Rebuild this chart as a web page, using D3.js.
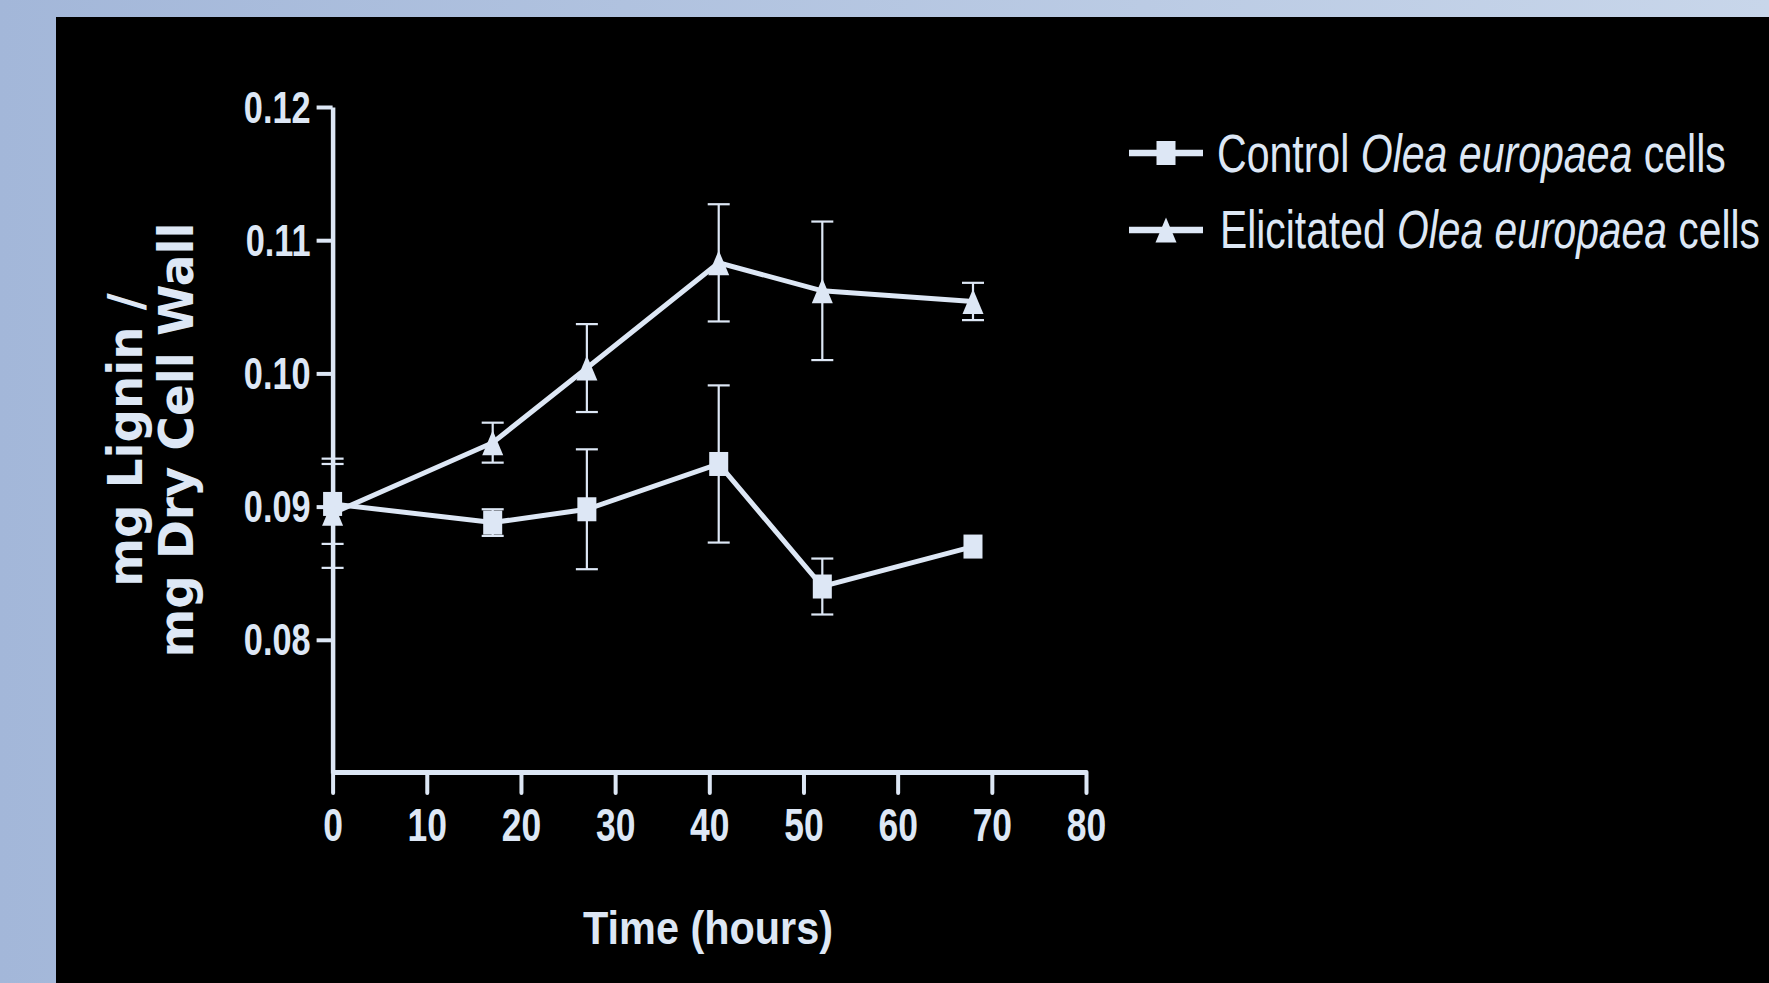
<!DOCTYPE html>
<html>
<head>
<meta charset="utf-8">
<script src="https://cdn.jsdelivr.net/npm/d3@7"></script>
<style>
  html, body { margin: 0; padding: 0; overflow: hidden; }
  body { background: linear-gradient(to right, #a3b7d9, #c8d6ea); }
  svg { display: block; }
</style>
</head>
<body>
<svg id="chart" width="1769" height="983"></svg>
<script>
// Sampling times (hours)
const hours = [0, 17, 27, 41, 52, 68];

// Lignin content (mg lignin / mg dry cell wall), mean and SD
const controlMean = [0.0902, 0.0888, 0.0898, 0.0932, 0.0840, 0.0870];
const controlErr  = [0.0030, 0.0010, 0.0045, 0.0059, 0.0021, 0.0000];
const elicitMean  = [0.0895, 0.0948, 0.1004, 0.1083, 0.1062, 0.1054];
const elicitErr   = [0.0041, 0.0015, 0.0033, 0.0044, 0.0052, 0.0014];

// Axis ticks
const xTicks = [0, 10, 20, 30, 40, 50, 60, 70, 80];
const yTicks = [0.08, 0.09, 0.10, 0.11, 0.12];

// Legend labels: [plain, italic, plain]
const legendLabels = [
  ["Control ", "Olea europaea", " cells"],
  ["Elicitated ", "Olea europaea", " cells"]
];

const FG = "#dde7f5";
const svg = d3.select("#chart");

// Black slide panel
svg.append("rect")
  .attr("x", 56).attr("y", 17)
  .attr("width", 1769 - 56).attr("height", 983 - 17)
  .attr("fill", "#000");

const x = d3.scaleLinear().domain([0, 80]).range([332.6, 1086]);
const y = d3.scaleLinear().domain([0.07, 0.12]).range([773, 107]);

const chartFont = "'Liberation Sans', Arial, sans-serif";

// Horizontal squeeze of a text node so it spans the given width
function squeezeTo(node, target) {
  const w = node.getBBox().width;
  return target / w;
}

// Y axis
const yAxis = svg.append("g")
  .attr("transform", `translate(${x(0)},0)`)
  .call(d3.axisLeft(y).tickValues(yTicks).tickSize(16).tickSizeOuter(0)
        .tickFormat(d3.format(".2f")));
yAxis.select(".domain").attr("stroke", FG).attr("stroke-width", 4.5);
yAxis.selectAll(".tick line").attr("stroke", FG).attr("stroke-width", 4);
yAxis.selectAll(".tick text")
  .attr("x", null).attr("dy", null)
  .attr("fill", FG)
  .attr("font-family", chartFont).attr("font-weight", "bold").attr("font-size", 44)
  .attr("text-anchor", "end")
  .attr("transform", "translate(-22,15) scale(0.78,1)");

// X axis
const xAxis = svg.append("g")
  .attr("transform", `translate(0,${y(0.07) - 1})`)
  .call(d3.axisBottom(x).tickValues(xTicks).tickSize(21).tickSizeOuter(0)
        .tickFormat(d3.format("d")));
xAxis.select(".domain").attr("stroke", FG).attr("stroke-width", 5);
xAxis.selectAll(".tick line").attr("stroke", FG).attr("stroke-width", 4)
  .attr("stroke-linecap", "round");
xAxis.selectAll(".tick text")
  .attr("y", null).attr("dy", null)
  .attr("fill", FG)
  .attr("font-family", chartFont).attr("font-weight", "bold").attr("font-size", 46)
  .attr("text-anchor", "middle")
  .attr("transform", "translate(0,69) scale(0.77,1)");
svg.selectAll(".tick").attr("font-family", null);

// Axis titles
const xTitle = svg.append("text")
  .attr("fill", FG)
  .attr("font-family", chartFont).attr("font-weight", "bold").attr("font-size", 46)
  .attr("text-anchor", "middle")
  .text("Time (hours)");
xTitle.attr("transform", `translate(708,944) scale(${squeezeTo(xTitle.node(), 250)},1)`);

const yTitleLines = [
  { text: "mg Lignin /", base: 142, len: 294 },
  { text: "mg Dry Cell Wall", base: 193, len: 435 }
];
yTitleLines.forEach(l => {
  const t = svg.append("text")
    .attr("fill", FG)
    .attr("font-family", "'DejaVu Sans', Verdana, sans-serif")
    .attr("font-weight", "bold").attr("font-size", 48)
    .attr("text-anchor", "middle")
    .text(l.text);
  const s = squeezeTo(t.node(), l.len);
  t.attr("transform", `translate(${l.base},440) rotate(-90) scale(${s},1)`);
});

// Series
const series = [
  { mean: controlMean, err: controlErr, shape: "square" },
  { mean: elicitMean, err: elicitErr, shape: "triangle" }
];

const plot = svg.append("g");
const capW = 22;

// Error bars
series.forEach(s => {
  const g = plot.append("g").attr("stroke", FG).attr("stroke-width", 2.2);
  hours.forEach((h, i) => {
    if (!s.err[i]) return;
    const cx = x(h), y0 = y(s.mean[i] - s.err[i]), y1 = y(s.mean[i] + s.err[i]);
    g.append("line").attr("x1", cx).attr("x2", cx).attr("y1", y0).attr("y2", y1);
    g.append("line").attr("x1", cx - capW / 2).attr("x2", cx + capW / 2).attr("y1", y0).attr("y2", y0);
    g.append("line").attr("x1", cx - capW / 2).attr("x2", cx + capW / 2).attr("y1", y1).attr("y2", y1);
  });
});

// Connecting lines
const line = d3.line().x((d, i) => x(hours[i])).y(d => y(d));
series.forEach(s => {
  plot.append("path")
    .attr("d", line(s.mean))
    .attr("fill", "none")
    .attr("stroke", FG)
    .attr("stroke-width", 5);
});

// Marker shapes
function marker(g, shape, cx, cy) {
  if (shape === "square") {
    g.append("rect")
      .attr("x", cx - 9.5).attr("y", cy - 12)
      .attr("width", 19).attr("height", 24)
      .attr("fill", FG);
  } else {
    g.append("path")
      .attr("d", `M${cx},${cy - 12.5}L${cx + 10.5},${cy + 12.5}L${cx - 10.5},${cy + 12.5}Z`)
      .attr("fill", FG);
  }
}
series.forEach(s => {
  hours.forEach((h, i) => marker(plot, s.shape, x(h), y(s.mean[i])));
});

// Legend
const legendRows = [
  { lineY: 153, baseY: 172, textX: 1217, width: 509 },
  { lineY: 230, baseY: 248, textX: 1220, width: 540 }
];
legendRows.forEach((r, i) => {
  svg.append("line")
    .attr("x1", 1129).attr("x2", 1203)
    .attr("y1", r.lineY).attr("y2", r.lineY)
    .attr("stroke", FG).attr("stroke-width", 6.5);
  marker(svg, series[i].shape, 1166, r.lineY);
  const t = svg.append("text")
    .attr("fill", FG)
    .attr("font-family", chartFont).attr("font-size", 54);
  const parts = legendLabels[i];
  t.append("tspan").text(parts[0]);
  t.append("tspan").attr("font-style", "italic").text(parts[1]);
  t.append("tspan").text(parts[2]);
  t.attr("transform", `translate(${r.textX},${r.baseY}) scale(${squeezeTo(t.node(), r.width)},1)`);
});
</script>
</body>
</html>
